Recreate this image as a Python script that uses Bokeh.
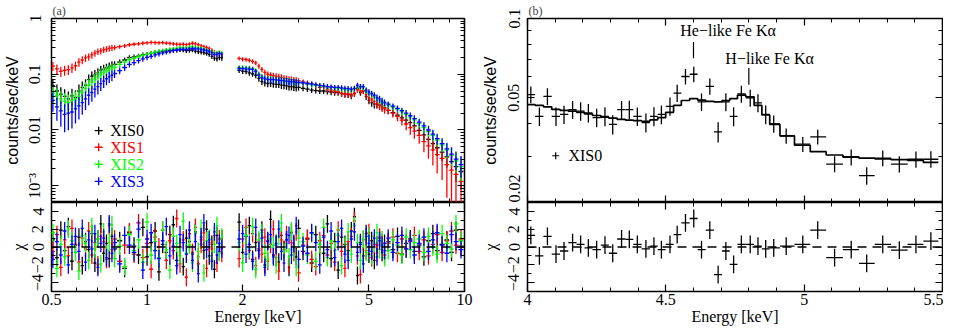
import numpy as np
from bokeh.plotting import figure
from bokeh.layouts import row, column
from bokeh.models import FixedTicker, LinearAxis, LogScale, Span, Range1d, CustomJSTickFormatter
from bokeh.core.properties import value
from bokeh.embed import file_html
from bokeh.resources import INLINE

SERIF = "Liberation Serif"
SANS = "Liberation Sans"

energy_low = [0.505, 0.52, 0.535, 0.55, 0.565, 0.58, 0.595, 0.61, 0.625, 0.64,
              0.655, 0.67, 0.685, 0.70, 0.715, 0.73, 0.745, 0.76, 0.775, 0.79,
              0.82, 0.85, 0.88, 0.91, 0.94, 0.97, 1.00, 1.03, 1.06, 1.09,
              1.12, 1.15, 1.18, 1.21, 1.24, 1.27, 1.30, 1.33, 1.36, 1.39,
              1.42, 1.45, 1.48, 1.51, 1.54, 1.57, 1.60, 1.63, 1.66, 1.69, 1.72]
energy_high = [1.95, 2.00, 2.05, 2.10, 2.15, 2.20, 2.25, 2.30, 2.35, 2.40, 2.45,
               2.50, 2.55, 2.60, 2.65, 2.70, 2.75, 2.80, 2.85, 2.90, 2.95, 3.00,
               3.1, 3.2, 3.3, 3.4, 3.5, 3.6, 3.7, 3.8, 3.9, 4.0, 4.1, 4.2, 4.3,
               4.4, 4.5, 4.6, 4.7, 4.8, 4.9, 5.0, 5.1, 5.2, 5.3, 5.4, 5.5, 5.6,
               5.75, 5.95, 6.15, 6.35, 6.55, 6.75, 6.95, 7.2, 7.45, 7.7, 7.95,
               8.2, 8.5, 8.8, 9.1, 9.4, 9.75]

detectors = ["XIS0", "XIS1", "XIS2", "XIS3"]
colors = ["#000000", "#ff0000", "#00ff00", "#0000ff"]

xis0_rate = [0.062, 0.050, 0.044, 0.040, 0.036, 0.041, 0.038, 0.050, 0.058, 0.064,
             0.080, 0.092, 0.098, 0.106, 0.118, 0.124, 0.130, 0.138, 0.146, 0.150,
             0.165, 0.180, 0.198, 0.205, 0.212, 0.222, 0.228, 0.236, 0.245, 0.250,
             0.258, 0.262, 0.268, 0.272, 0.270, 0.276, 0.272, 0.265, 0.268, 0.272,
             0.260, 0.255, 0.250, 0.245, 0.238, 0.228, 0.210, 0.195, 0.190, 0.200, 0.196,
             0.118, 0.114, 0.112, 0.106, 0.102, 0.096, 0.084, 0.074, 0.070, 0.068, 0.069,
             0.067, 0.066, 0.066, 0.064, 0.063, 0.062, 0.060, 0.060, 0.059, 0.058, 0.058,
             0.056, 0.054, 0.052, 0.051, 0.050, 0.050, 0.049, 0.048, 0.047, 0.047, 0.045,
             0.044, 0.043, 0.041, 0.045, 0.056, 0.047, 0.050, 0.040, 0.034, 0.031, 0.029,
             0.029, 0.028, 0.027, 0.025,
             0.0225, 0.0205, 0.0185, 0.0165, 0.0150, 0.0135, 0.0118, 0.0098, 0.0082,
             0.0068, 0.0057, 0.0048, 0.0040, 0.0033, 0.0027, 0.0022, 0.0018]
xis1_rate = [0.140, 0.125, 0.113, 0.118, 0.121, 0.130, 0.142, 0.165, 0.180, 0.196,
             0.205, 0.222, 0.240, 0.255, 0.262, 0.275, 0.283, 0.290, 0.298, 0.300,
             0.312, 0.322, 0.338, 0.345, 0.352, 0.360, 0.366, 0.372, 0.368, 0.366,
             0.370, 0.362, 0.358, 0.352, 0.348, 0.343, 0.345, 0.340, 0.348, 0.360,
             0.352, 0.338, 0.322, 0.312, 0.300, 0.290, 0.268, 0.245, 0.232, 0.238, 0.228,
             0.192, 0.186, 0.184, 0.178, 0.170, 0.160, 0.140, 0.122, 0.108, 0.100, 0.097,
             0.094, 0.092, 0.090, 0.088, 0.085, 0.084, 0.081, 0.080, 0.078, 0.077, 0.076,
             0.073, 0.070, 0.067, 0.063, 0.058, 0.060, 0.054, 0.052, 0.050, 0.049, 0.046,
             0.044, 0.045, 0.043, 0.046, 0.053, 0.050, 0.051, 0.044, 0.038, 0.036, 0.033,
             0.030, 0.028, 0.026, 0.024,
             0.0225, 0.0200, 0.0175, 0.0150, 0.0128, 0.0110, 0.0095, 0.0080, 0.0062,
             0.0052, 0.0044, 0.0036, 0.0031, 0.0024, 0.0019, 0.0016, 0.0012]
xis2_rate = [0.046, 0.042, 0.036, 0.033, 0.031, 0.034, 0.036, 0.040, 0.047, 0.056,
             0.064, 0.072, 0.082, 0.090, 0.100, 0.108, 0.116, 0.122, 0.128, 0.134,
             0.150, 0.165, 0.182, 0.195, 0.205, 0.218, 0.228, 0.238, 0.248, 0.256,
             0.262, 0.272, 0.280, 0.286, 0.292, 0.298, 0.300, 0.298, 0.305, 0.310,
             0.302, 0.298, 0.290, 0.282, 0.272, 0.262, 0.248, 0.236, 0.240, 0.245, 0.238,
             0.132, 0.131, 0.130, 0.128, 0.125, 0.116, 0.100, 0.090, 0.085, 0.083, 0.082,
             0.081, 0.080, 0.079, 0.078, 0.077, 0.076, 0.075, 0.074, 0.073, 0.072, 0.071,
             0.069, 0.067, 0.065, 0.063, 0.062, 0.060, 0.059, 0.058, 0.057, 0.056, 0.055,
             0.053, 0.053, 0.052, 0.054, 0.061, 0.058, 0.058, 0.050, 0.046, 0.043, 0.040,
             0.037, 0.034, 0.032, 0.030,
             0.0280, 0.0258, 0.0236, 0.0212, 0.0190, 0.0172, 0.0152, 0.0130, 0.0110,
             0.0094, 0.0080, 0.0066, 0.0054, 0.0044, 0.0035, 0.0028, 0.0022]
xis3_rate = [0.034, 0.026, 0.022, 0.019, 0.020, 0.021, 0.024, 0.027, 0.031, 0.036,
             0.042, 0.047, 0.054, 0.060, 0.068, 0.075, 0.083, 0.090, 0.096, 0.103,
             0.116, 0.132, 0.150, 0.162, 0.175, 0.188, 0.200, 0.210, 0.222, 0.232,
             0.242, 0.250, 0.258, 0.266, 0.272, 0.278, 0.282, 0.280, 0.286, 0.292,
             0.286, 0.284, 0.278, 0.272, 0.265, 0.258, 0.242, 0.225, 0.228, 0.236, 0.226,
             0.127, 0.126, 0.125, 0.124, 0.122, 0.112, 0.096, 0.087, 0.083, 0.081, 0.080,
             0.080, 0.079, 0.078, 0.077, 0.076, 0.075, 0.074, 0.073, 0.073, 0.072, 0.071,
             0.070, 0.068, 0.067, 0.065, 0.063, 0.062, 0.060, 0.059, 0.058, 0.058, 0.057,
             0.056, 0.055, 0.054, 0.056, 0.064, 0.060, 0.060, 0.052, 0.048, 0.045, 0.042,
             0.038, 0.036, 0.033, 0.031,
             0.0290, 0.0268, 0.0245, 0.0222, 0.0200, 0.0180, 0.0160, 0.0138, 0.0118,
             0.0100, 0.0084, 0.0070, 0.0057, 0.0046, 0.0037, 0.0030, 0.0024]

xis0_chi = [0.8, -1.2, 1.9, -0.4, 2.3, -1.6, 0.2, 1.1, -2.1, 0.6, -0.3, 1.5, -1.8, 0.9, 2.6,
            -0.7, 0.4, -1.3, 1.2, -0.2, 0.7, -2.4, 1.6, 0.1, -0.9, 2.2, -1.1, 0.5, 1.8, -2.8,
            0.3, -0.6, 1.4, 2.5, -1.5, 0.0, -2.2, 1.0, 0.6, -0.8, 1.7, -1.9, 0.8, -0.4, 2.0,
            -1.0, 0.3, -2.5, 1.3, -0.5, 0.9,
            2.8, -0.6, 1.2, 2.4, -1.4, 0.5, -0.2, 1.9, -2.0, 0.7, 3.1, -0.9, 0.4, -1.7, 1.3,
            -0.3, 0.8, -2.3, 1.6, 0.2, -1.1, 2.1, -0.5, 0.9, -1.8, 1.4, 0.0, -0.7, 2.6, -1.3,
            0.6, -2.6, 1.1, 0.3, -0.4, 1.8, 3.4, -3.2, 0.5, -1.0, 1.5, -0.8, 0.7, -1.5, 0.2,
            1.0, -0.6, 0.4,
            0.6, -0.3, 1.2, -0.8, 0.4, 0.9, -0.5, 0.2, -1.1, 0.7, 1.5, -0.4, 0.3, 0.8, -0.6,
            1.9, 0.1]
xis1_chi = [-0.5, 1.4, -2.3, 0.8, -1.0, 2.1, 0.3, -1.7, 1.0, -0.2, 1.8, -0.9, 0.5, -2.0, 1.2,
            0.6, -1.4, 2.4, -0.3, 0.9, -1.6, 0.2, 1.7, -0.8, 2.7, -1.2, 0.4, -2.5, 1.1, 0.0,
            1.9, -1.5, 0.7, -0.4, 3.2, -1.9, 0.8, -3.4, 1.5, -0.6, 2.2, -1.1, 0.3, 1.6, -2.4,
            0.5, -0.2, 1.3, -1.8, 0.9, -0.7,
            -1.3, 0.9, 2.2, -0.4, 1.5, -2.1, 0.6, -0.8, 1.1, -1.6, 0.3, 2.0, -1.2, -2.7, 0.8,
            -0.3, 1.4, -1.9, 0.5, -0.6, 1.7, -2.9, 0.2, 1.0, -1.4, -2.2, 0.7, 1.3, -0.9, 0.4,
            -1.7, 1.9, -0.5, -2.4, 0.6, 1.2, 2.9, -1.0, -3.1, 0.8, -0.4, 1.6, -1.2, 0.3, -0.7,
            1.1, 0.5, -0.9,
            0.4, 1.1, -0.7, 0.9, -0.2, 0.6, 1.3, -0.5, 0.8, -1.0, 0.3, 1.4, -0.6, 0.7, 1.8,
            0.2, 0.9]
xis2_chi = [1.6, -2.4, 0.3, -1.1, 2.0, 0.7, -0.6, -2.7, 1.3, 0.4, -1.5, 2.3, -0.2, 0.9, -1.9,
            1.7, -0.8, 0.5, 2.5, -1.3, 0.1, -2.2, 1.4, -0.4, 0.8, -1.7, 2.8, -0.9, 0.6, -1.2,
            1.9, -0.3, -2.6, 1.2, 0.4, -1.0, 2.9, -0.7, 0.2, -1.8, 1.5, -0.5, 2.1, -2.9, 0.7,
            1.0, -1.4, 0.3, 2.4, -0.6, 1.1,
            0.5, -1.8, 1.3, -0.2, 2.3, -2.5, 0.8, 1.6, -0.7, -1.4, 0.9, 0.2, -2.0, 1.2, 2.7,
            -0.6, 0.4, -1.1, 1.8, -0.3, -2.3, 1.0, 0.6, -0.9, 1.5, -1.6, 0.3, 2.2, -1.2, 0.7,
            -0.4, 1.3, -2.1, 0.1, 1.7, -0.8, 2.4, 0.5, -1.5, 0.9, -0.6, 1.2, -1.0, 0.4, 1.6,
            -0.3, 0.8, -1.2,
            -0.4, 0.8, 0.2, -0.9, 1.1, -0.3, 0.5, 0.9, -0.6, 1.2, 0.0, -0.8, 1.5, 0.4, -0.2,
            2.6, 0.7]
xis3_chi = [-1.4, 0.6, -0.9, 1.8, -2.0, 0.3, 1.2, -0.5, 2.1, -1.7, 0.8, -0.2, 1.5, -2.3, 0.4,
            1.0, -1.2, 2.6, -0.7, 0.5, -1.9, 1.3, 0.2, -0.6, 2.0, -2.6, 0.9, 1.6, -0.4, -1.3,
            0.7, 2.3, -1.0, 0.1, -2.1, 1.4, 0.5, -0.8, 1.9, -1.5, 0.6, -3.0, 1.1, 2.7, -0.3,
            0.8, -1.6, 1.7, -0.9, 0.4, -0.2,
            0.9, 1.5, -0.8, 0.3, -1.6, 2.2, -0.4, 1.0, -2.3, 0.6, 1.4, -1.1, 0.2, 2.0, -0.5,
            -1.8, 0.8, 1.3, -0.9, 0.4, 2.4, -1.4, 0.1, -0.7, 1.6, 0.5, -2.0, 1.1, -0.3, 1.8,
            -1.2, 0.6, 2.1, -0.8, -1.5, 0.9, 1.7, -0.6, 0.3, -1.9, 1.2, 0.4, -0.5, 1.0, -1.1,
            0.7, 0.2, -0.4,
            1.0, -0.6, 0.5, 1.3, -0.2, 0.7, -0.9, 0.4, 1.1, -0.5, 0.8, 1.6, 0.2, -0.7, 1.4,
            0.6, -0.3]

background = [0.003, 0.012, 0.003, 0.003]   # counts/s/keV under each spectrum
exposure_a = 15000.0                        # s

b_energy = [4.012, 4.043, 4.072, 4.103, 4.132, 4.163, 4.192, 4.220, 4.250, 4.280,
            4.308, 4.340, 4.368, 4.397, 4.428, 4.457, 4.484, 4.515, 4.541, 4.571,
            4.601, 4.629, 4.659, 4.689, 4.717, 4.745, 4.773, 4.805, 4.833, 4.861,
            4.890, 4.935, 4.995, 5.049, 5.110, 5.170, 5.226, 5.284, 5.344, 5.404, 5.458]
b_rate = [0.0514, 0.0425, 0.0506, 0.0425, 0.0432, 0.0451, 0.0445, 0.0438, 0.0420, 0.0425,
          0.0396, 0.0451, 0.0451, 0.0425, 0.0402, 0.0425, 0.0432, 0.0464, 0.0521, 0.0602,
          0.0614, 0.0482, 0.0552, 0.0371, 0.0482, 0.0425, 0.0517, 0.0499, 0.0478, 0.0432,
          0.0398, 0.0358, 0.0333, 0.0355, 0.0280, 0.0297, 0.0253, 0.0295, 0.0280, 0.0292, 0.0292]
b_model = [0.0471, 0.0468, 0.0462, 0.0452, 0.0448, 0.0445, 0.0440, 0.0434, 0.0428, 0.0422,
           0.0418, 0.0414, 0.0411, 0.0409, 0.0407, 0.0412, 0.0420, 0.0440, 0.0468, 0.0488,
           0.0496, 0.0490, 0.0484, 0.0482, 0.0488, 0.0496, 0.0512, 0.0504, 0.0468, 0.0430,
           0.0396, 0.0358, 0.0330, 0.0312, 0.0303, 0.0298, 0.0295, 0.0293, 0.0291, 0.0289, 0.0284]
b_chi = [1.3, -1.0, 1.2, -0.8, -0.45, 0.5, 0.3, -0.1, -0.3, 0.2, -0.7, 0.9, 0.85, 0.3, -0.2,
         0.1, -0.3, 0.3, 1.4, 2.7, 3.2, -0.3, 1.9, -3.1, -0.45, -1.95, 0.3, 0.3, 0.1, -0.2,
         -0.1, 0.1, 0.3, 1.9, -1.2, -0.3, -1.85, 0.3, -0.35, 0.3, 0.65]
exposure_b = 120000.0

line_labels = ["He\u2212like Fe K\u03b1", "H\u2212like Fe K\u03b1"]
line_energy = [4.60, 4.80]

rates = [xis0_rate, xis1_rate, xis2_rate, xis3_rate]
chis = [xis0_chi, xis1_chi, xis2_chi, xis3_chi]


def bin_edges(e):
    e = np.asarray(e, float)
    mid = 0.5 * (e[1:] + e[:-1])
    lo = np.concatenate([[e[0] - (mid[0] - e[0])], mid])
    hi = np.concatenate([mid, [e[-1] + (e[-1] - mid[-1])]])
    return lo, hi


lo1, hi1 = bin_edges(energy_low)
lo2, hi2 = bin_edges(energy_high)
E = np.concatenate([energy_low, energy_high])
E_lo = np.concatenate([lo1, lo2])
E_hi = np.concatenate([hi1, hi2])


def make_fig(xr, yr, xt, yt, w, h, borders, title=None):
    p = figure(width=w, height=h, x_range=xr, y_range=yr, x_axis_type=None, y_axis_type=None,
               output_backend="svg", toolbar_location=None,
               min_border_left=borders[0], min_border_right=borders[1],
               min_border_top=borders[2], min_border_bottom=borders[3])
    if xt == "log":
        p.x_scale = LogScale()
    if yt == "log":
        p.y_scale = LogScale()
    p.outline_line_color = "black"
    p.outline_line_width = 1.5
    p.background_fill_color = "white"
    p.border_fill_color = "white"
    if title is not None:
        p.title.text = title
        p.title.text_font = SERIF
        p.title.text_font_size = "12px"
        p.title.text_font_style = "normal"
        p.title.align = "left"
        p.title.standoff = 2
        p.title.offset = 1
    axes = {}
    for side in ("below", "left", "above", "right"):
        ax = LinearAxis()
        p.add_layout(ax, side)
        axes[side] = ax
    return p, axes


def style_axis(ax, major, minor, labels=None, vertical=False, title=None, title_font=SERIF,
               label_standoff=8, title_standoff=3):
    ax.ticker = FixedTicker(ticks=major, minor_ticks=minor)
    ax.major_tick_in = 7
    ax.major_tick_out = 0
    ax.minor_tick_in = 4
    ax.minor_tick_out = 0
    ax.major_tick_line_width = 1.2
    ax.minor_tick_line_width = 1.0
    ax.major_tick_line_color = "black"
    ax.minor_tick_line_color = "black"
    ax.axis_line_color = None
    if labels is None:
        ax.formatter = CustomJSTickFormatter(code="return ''")
        ax.major_label_text_font_size = "0px"
        ax.major_label_standoff = 0
    else:
        ax.major_label_overrides = labels
        ax.major_label_text_font = SERIF
        ax.major_label_text_font_size = "16px"
        ax.major_label_text_color = "black"
        ax.major_label_standoff = label_standoff
        if vertical:
            ax.major_label_orientation = "vertical"
    if title is not None:
        ax.axis_label = title
        ax.axis_label_text_font = title_font
        ax.axis_label_text_font_size = "16px"
        ax.axis_label_text_font_style = "normal"
        ax.axis_label_text_color = "black"
        ax.axis_label_standoff = title_standoff


a_x_major_lab = [0.5, 1, 2, 5, 10]
a_x_minor_lab = [0.6, 0.7, 0.8, 0.9, 3, 4, 6, 7, 8, 9]
a_x_major = [1, 10]
a_x_minor = [0.6, 0.7, 0.8, 0.9, 2, 3, 4, 5, 6, 7, 8, 9]
a_x_labels = {0.5: "0.5", 1: "1", 2: "2", 5: "5", 10: "10"}
a_y_major = [0.001, 0.01, 0.1, 1]
a_y_minor = [k * 10.0 ** d for d in (-4, -3, -2, -1) for k in range(2, 10) if 5e-4 <= k * 10.0 ** d < 1]
a_y_labels = {0.001: "10\u207b\u00b3", 0.01: "0.01", 0.1: "0.1", 1: "1"}
chi_major = [-4, -2, 0, 2, 4]
chi_minor = [-5, -3, -1, 1, 3, 5]
chi_labels = {-4: "\u22124", -2: "\u22122", 0: "0", 2: "2", 4: "4"}
b_x_major = [4, 4.5, 5, 5.5]
b_x_minor = [4.1, 4.2, 4.3, 4.4, 4.6, 4.7, 4.8, 4.9, 5.1, 5.2, 5.3, 5.4]
b_x_labels = {4: "4", 4.5: "4.5", 5: "5", 5.5: "5.5"}
b_y_major = [0.02, 0.05, 0.1]
b_y_minor = [0.03, 0.04, 0.06, 0.07, 0.08, 0.09]
b_y_labels = {0.02: "0.02", 0.05: "0.05", 0.1: "0.1"}

xr_a = Range1d(0.5, 10)
xr_b = Range1d(4, 5.5)

LW, LH_TOP, LH_BOT = 476, 202, 126
RW = 467
TOPB = 16
BOTB = 37

# ---------- panel (a) spectra ----------
p1, ax1 = make_fig(xr_a, Range1d(5e-4, 1.0), "log", "log", LW, LH_TOP, (47, 12, TOPB, 0), title="(a)")
style_axis(ax1["below"], a_x_major, a_x_minor)
style_axis(ax1["above"], a_x_major, a_x_minor)
style_axis(ax1["left"], a_y_major, a_y_minor, a_y_labels, vertical=True,
           title="counts/sec/keV", title_font=SANS)
style_axis(ax1["right"], a_y_major, a_y_minor)

# ---------- panel (a) residuals ----------
p2, ax2 = make_fig(xr_a, Range1d(-5, 5), "log", "linear", LW, LH_BOT, (47, 12, 0, BOTB))
style_axis(ax2["below"], a_x_major_lab, a_x_minor_lab, a_x_labels, title="Energy [keV]",
           label_standoff=2, title_standoff=0)
style_axis(ax2["above"], a_x_major, a_x_minor)
style_axis(ax2["left"], chi_major, chi_minor, chi_labels, vertical=True, title="\u03c7")
style_axis(ax2["right"], chi_major, chi_minor)
p2.add_layout(Span(location=0, dimension="width", line_color="black", line_width=1.3, line_dash="9 6"))

for name, col, rate, chi, bkg in zip(detectors, colors, rates, chis, background):
    r = np.asarray(rate, float)
    width = E_hi - E_lo
    err = np.sqrt((r + bkg) / (width * exposure_a))
    p1.segment(x0=E, y0=np.maximum(r - err, 2e-4), x1=E, y1=r + err, line_color=col, line_width=1.3)
    p1.segment(x0=E_lo, y0=r, x1=E_hi, y1=r, line_color=col, line_width=1.3)
    c = np.asarray(chi, float)
    p2.segment(x0=E, y0=c - 1, x1=E, y1=c + 1, line_color=col, line_width=1.3)
    p2.segment(x0=E_lo, y0=c, x1=E_hi, y1=c, line_color=col, line_width=1.3)

leg_marker_x, leg_text_x = 0.704, 0.765
leg_y = [0.0097, 0.0049, 0.00243, 0.0012]
for name, col, yy in zip(detectors, colors, leg_y):
    p1.scatter(x=[leg_marker_x], y=[yy], marker="cross", size=8, line_color=col, line_width=1.3)
    p1.text(x=[leg_text_x], y=[yy], text=[name], text_color=col, text_font=value(SERIF),
            text_font_size="16px", text_baseline="middle", text_align="left")

# ---------- panel (b) spectrum ----------
p3, ax3 = make_fig(xr_b, Range1d(0.02, 0.1), "linear", "log", RW, LH_TOP, (51, 1, TOPB, 0), title="(b)")
style_axis(ax3["below"], b_x_major, b_x_minor)
style_axis(ax3["above"], b_x_major, b_x_minor)
style_axis(ax3["left"], b_y_major, b_y_minor, b_y_labels, vertical=True,
           title="counts/sec/keV", title_font=SANS, title_standoff=7)
style_axis(ax3["right"], b_y_major, b_y_minor)

blo, bhi = bin_edges(b_energy)
be = np.asarray(b_energy, float)
br = np.asarray(b_rate, float)
berr = np.sqrt(br / ((bhi - blo) * exposure_b))
p3.segment(x0=be, y0=br - berr, x1=be, y1=br + berr, line_color="black", line_width=1.3)
p3.segment(x0=blo, y0=br, x1=bhi, y1=br, line_color="black", line_width=1.3)
stair_x = np.column_stack([blo, bhi]).ravel()
stair_y = np.repeat(np.asarray(b_model, float), 2)
p3.line(stair_x, stair_y, line_color="black", line_width=1.7)

p3.segment(x0=line_energy, y0=[0.0706, 0.0560], x1=line_energy, y1=[0.0814, 0.0649],
           line_color="black", line_width=1.2)
p3.text(x=[4.725, 4.875], y=[0.0901, 0.0706], text=line_labels, text_color="black",
        text_font=value(SERIF), text_font_size="16px", text_align="center", text_baseline="middle")

p3.scatter(x=[4.102], y=[0.0301], marker="cross", size=7, line_color="black", line_width=1.2)
p3.text(x=[4.148], y=[0.0301], text=["XIS0"], text_color="black", text_font=value(SERIF),
        text_font_size="16px", text_baseline="middle", text_align="left")

# ---------- panel (b) residuals ----------
p4, ax4 = make_fig(xr_b, Range1d(-5, 5), "linear", "linear", RW, LH_BOT, (51, 1, 0, BOTB))
style_axis(ax4["below"], b_x_major, b_x_minor, b_x_labels, title="Energy [keV]",
           label_standoff=2, title_standoff=0)
style_axis(ax4["above"], b_x_major, b_x_minor)
style_axis(ax4["left"], chi_major, chi_minor, chi_labels, vertical=True, title="\u03c7",
           title_standoff=7)
style_axis(ax4["right"], chi_major, chi_minor)
p4.add_layout(Span(location=0, dimension="width", line_color="black", line_width=1.3, line_dash="9 6"))
bc = np.asarray(b_chi, float)
p4.segment(x0=be, y0=bc - 1, x1=be, y1=bc + 1, line_color="black", line_width=1.3)
p4.segment(x0=blo, y0=bc, x1=bhi, y1=bc, line_color="black", line_width=1.3)

layout = row(column(p1, p2), column(p3, p4))
open("out.html", "w").write(file_html(layout, INLINE))
